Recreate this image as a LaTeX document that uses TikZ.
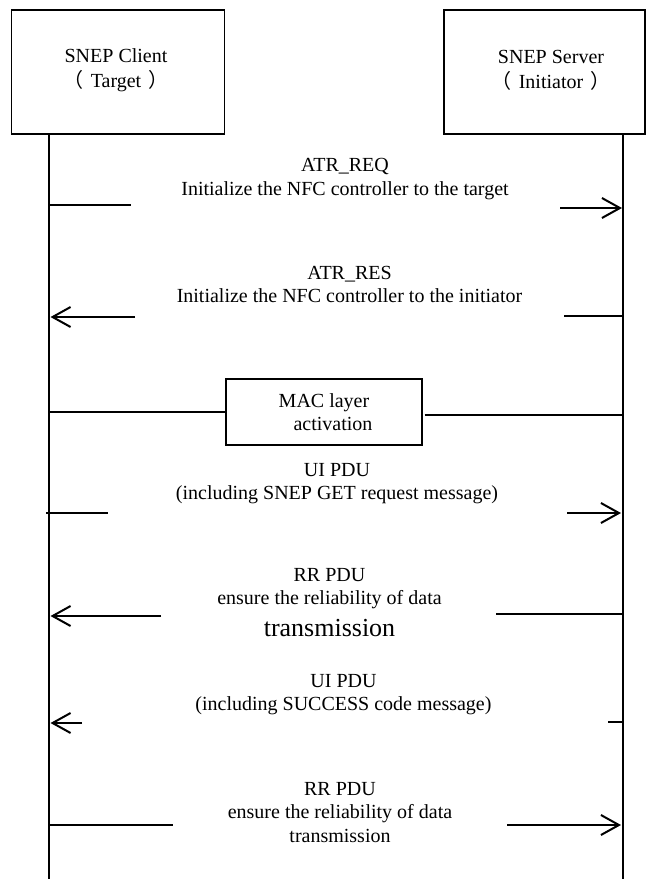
\documentclass[tikz,border=0pt]{standalone}
\usepackage{fontspec}
\setmainfont{Liberation Serif}
\newfontfamily\cjk{Noto Sans CJK SC}
\usetikzlibrary{arrows.meta}
\newcommand{\fwl}{{\cjk （}\hspace{7pt}}
\newcommand{\fwr}{\hspace{7pt}{\cjk ）}}
\begin{document}
\begin{tikzpicture}[x=1pt,y=-1pt,
  lbl/.style={align=center,font=\fontsize{20}{23.5}\selectfont,inner sep=0pt},
  biglbl/.style={align=center,font=\fontsize{26}{28}\selectfont,inner sep=0pt},
  actor/.style={draw,line width=1.6pt,inner sep=0pt},
  life/.style={line width=1.6pt},
  msg/.style={line width=2pt},
  arr/.style={msg,-{Straight Barb[length=18pt,width=20pt]}}]
\useasboundingbox (0,0) rectangle (646,879);

% actors
\node[actor,minimum width=213pt,minimum height=124pt] (client) at (118,72) {};
\node[lbl,font=\fontsize{20}{25}\selectfont] (clientt) at (116,70.5) {SNEP Client\\\fwl Target\fwr};
\node[actor,minimum width=201pt,minimum height=124pt] (server) at (544.5,72) {};
\node[lbl,font=\fontsize{20}{25}\selectfont] (servert) at (551,70.5) {SNEP Server\\\fwl Initiator\fwr};

% lifelines
\coordinate (cl) at (49,879);
\coordinate (sl) at (623,879);
\draw[life] (cl |- client.south) -- (cl);
\draw[life] (sl |- server.south) -- (sl);

% 1 ATR_REQ
\node[lbl] (n1) at (345,179) {ATR\_REQ\\Initialize the NFC controller to the target};
\coordinate (a1s) at (49,205);
\coordinate (a1e) at (131,205);
\coordinate (b1s) at (560,208);
\coordinate (b1e) at (622,208);
\draw[msg] (a1s) -- (a1e);
\draw[arr] (b1s) -- (b1e);

% 2 ATR_RES
\node[lbl] (n2) at (349.5,284.7) {ATR\_RES\\Initialize the NFC controller to the initiator};
\coordinate (a2s) at (135,317);
\coordinate (a2e) at (50.5,317);
\coordinate (b2s) at (564,316);
\coordinate (b2e) at (623,316);
\draw[arr] (a2s) -- (a2e);
\draw[msg] (b2s) -- (b2e);

% 3 MAC layer activation
\node[actor,line width=1.4pt,minimum width=196pt,minimum height=66pt,align=center,
      font=\fontsize{20}{23}\selectfont] (mac) at (324,412)
      {MAC layer\\\hspace*{18pt}activation};
\coordinate (a3s) at (49,412);
\coordinate (b3e) at (623,415);
\draw[life] (a3s) -- (mac.west);
\draw[msg] ([yshift=-3pt,xshift=2pt]mac.east) -- (b3e);

% 4 UI PDU (GET)
\node[lbl] (n4) at (337,483.5) {UI PDU\\(including SNEP GET request message)};
\coordinate (a4s) at (46,513);
\coordinate (a4e) at (108,513);
\coordinate (b4s) at (567,513);
\coordinate (b4e) at (621,513);
\draw[msg] (a4s) -- (a4e);
\draw[arr] (b4s) -- (b4e);

% 5 RR PDU
\node[lbl] (n5) at (329.5,588.5) {RR PDU\\ensure the reliability of data};
\node[biglbl] (n5b) at (329.5,628.5) {transmission};
\coordinate (a5s) at (161,616);
\coordinate (a5e) at (50.5,616);
\coordinate (b5s) at (496,614);
\coordinate (b5e) at (623,614);
\draw[arr] (a5s) -- (a5e);
\draw[msg] (b5s) -- (b5e);

% 6 UI PDU (SUCCESS)
\node[lbl] (n6) at (343.5,694.5) {UI PDU\\(including SUCCESS code message)};
\coordinate (a6s) at (82,723);
\coordinate (a6e) at (50.5,723);
\coordinate (b6s) at (608,722);
\coordinate (b6e) at (623,722);
\draw[arr] (a6s) -- (a6e);
\draw[msg] (b6s) -- (b6e);

% 7 RR PDU
\node[lbl] (n7) at (340,812.5) {RR PDU\\ensure the reliability of data\\transmission};
\coordinate (a7s) at (49,825);
\coordinate (a7e) at (173,825);
\coordinate (b7s) at (507,825);
\coordinate (b7e) at (621,825);
\draw[msg] (a7s) -- (a7e);
\draw[arr] (b7s) -- (b7e);
\end{tikzpicture}
\end{document}
